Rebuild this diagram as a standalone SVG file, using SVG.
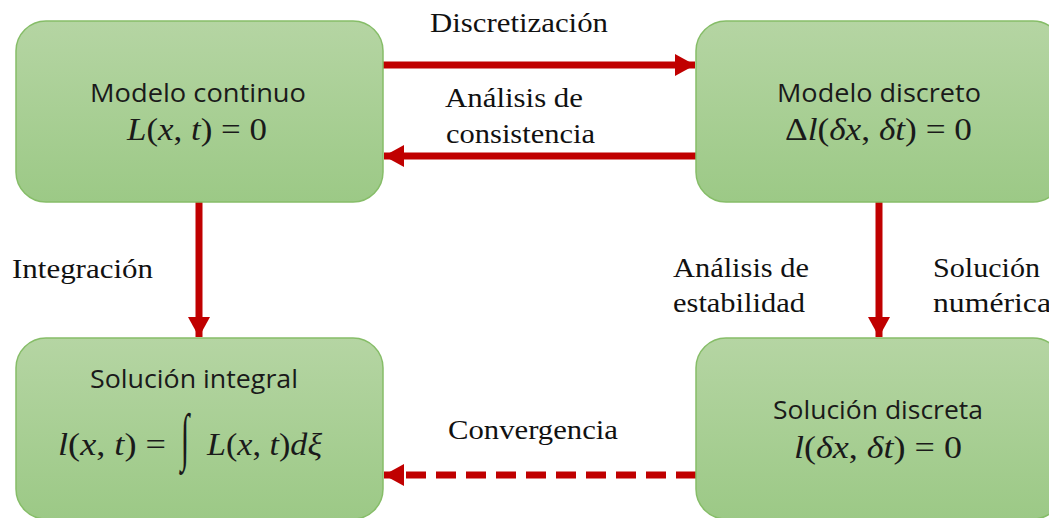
<svg xmlns="http://www.w3.org/2000/svg" width="1049" height="518" viewBox="0 0 1049 518">
<defs>
<linearGradient id="g" x1="0" y1="0" x2="0" y2="1">
<stop offset="0" stop-color="#b5d5a3"/>
<stop offset="1" stop-color="#9cc986"/>
</linearGradient>
<marker id="ah" viewBox="0 0 20 22" refX="20" refY="11" markerWidth="20" markerHeight="22" markerUnits="userSpaceOnUse" orient="auto">
<path d="M0,0 L20,11 L0,22 Z" fill="#c00000"/>
</marker>
<style>
.box{fill:url(#g);stroke:#86bd68;stroke-width:1.5}
.t{font-family:"Open Sans","Liberation Sans",sans-serif;font-size:25px;fill:#1a1a1a}
.m{font-family:"Liberation Serif","DejaVu Serif",serif;font-size:31px;fill:#1a1a1a}
.i{font-style:italic}
.lb{font-family:"Liberation Serif","Times New Roman",serif;font-size:28px;fill:#111}
.c{fill:none;stroke:#c00000;stroke-width:7}
</style>
</defs>
<g id="connectors">
<line class="c" x1="383" y1="65" x2="695" y2="65" marker-end="url(#ah)"/>
<line class="c" x1="696" y1="156" x2="384" y2="156" marker-end="url(#ah)"/>
<line class="c" x1="199" y1="202" x2="199" y2="337" marker-end="url(#ah)"/>
<line class="c" x1="879" y1="202" x2="879" y2="337" marker-end="url(#ah)"/>
<line class="c" x1="696" y1="475" x2="384" y2="475" stroke-dasharray="20,10" marker-end="url(#ah)"/>
</g>
<g id="labels">
<text class="lb" x="430" y="32" textLength="178" lengthAdjust="spacingAndGlyphs">Discretización</text>
<text class="lb" x="445" y="107" textLength="138" lengthAdjust="spacingAndGlyphs">Análisis de</text>
<text class="lb" x="446" y="143" textLength="149" lengthAdjust="spacingAndGlyphs">consistencia</text>
<text class="lb" x="12" y="278" textLength="141" lengthAdjust="spacingAndGlyphs">Integración</text>
<text class="lb" x="673" y="277" textLength="136" lengthAdjust="spacingAndGlyphs">Análisis de</text>
<text class="lb" x="673" y="312" textLength="132" lengthAdjust="spacingAndGlyphs">estabilidad</text>
<text class="lb" x="933" y="277" textLength="107" lengthAdjust="spacingAndGlyphs">Solución</text>
<text class="lb" x="933" y="312" textLength="118" lengthAdjust="spacingAndGlyphs">numérica</text>
<text class="lb" x="448" y="439" textLength="170" lengthAdjust="spacingAndGlyphs">Convergencia</text>
</g>
<g id="n1">
<rect class="box" x="16" y="21" width="367" height="181" rx="30"/>
<text class="t" x="90" y="102" textLength="216" lengthAdjust="spacingAndGlyphs">Modelo continuo</text>
<text class="m" x="127" y="140" textLength="140" lengthAdjust="spacingAndGlyphs"><tspan class="i">L</tspan>(<tspan class="i">x</tspan>, <tspan class="i">t</tspan>) = 0</text>
</g>
<g id="n2">
<rect class="box" x="696" y="21" width="367" height="181" rx="30"/>
<text class="t" x="777" y="102" textLength="204" lengthAdjust="spacingAndGlyphs">Modelo discreto</text>
<text class="m" x="785" y="140" textLength="187" lengthAdjust="spacingAndGlyphs">Δ<tspan class="i">l</tspan>(<tspan class="i">δx</tspan>, <tspan class="i">δt</tspan>) = 0</text>
</g>
<g id="n3">
<rect class="box" x="16" y="338" width="367" height="181" rx="30"/>
<text class="t" x="90" y="388" textLength="208" lengthAdjust="spacingAndGlyphs">Solución integral</text>
<text class="m" x="58" y="455" textLength="108" lengthAdjust="spacingAndGlyphs"><tspan class="i">l</tspan>(<tspan class="i">x</tspan>, <tspan class="i">t</tspan>) =</text>
<text class="m" transform="translate(185,458) scale(1,2.05)" font-family="DejaVu Serif" font-size="40" text-anchor="middle" font-style="italic">∫</text>
<text class="m" x="207" y="455" textLength="115" lengthAdjust="spacingAndGlyphs"><tspan class="i">L</tspan>(<tspan class="i">x</tspan>, <tspan class="i">t</tspan>)<tspan class="i">dξ</tspan></text>
</g>
<g id="n4">
<rect class="box" x="696" y="338" width="367" height="181" rx="30"/>
<text class="t" x="773" y="419" textLength="210" lengthAdjust="spacingAndGlyphs">Solución discreta</text>
<text class="m" x="794" y="458" textLength="168" lengthAdjust="spacingAndGlyphs"><tspan class="i">l</tspan>(<tspan class="i">δx</tspan>, <tspan class="i">δt</tspan>) = 0</text>
</g>
</svg>
